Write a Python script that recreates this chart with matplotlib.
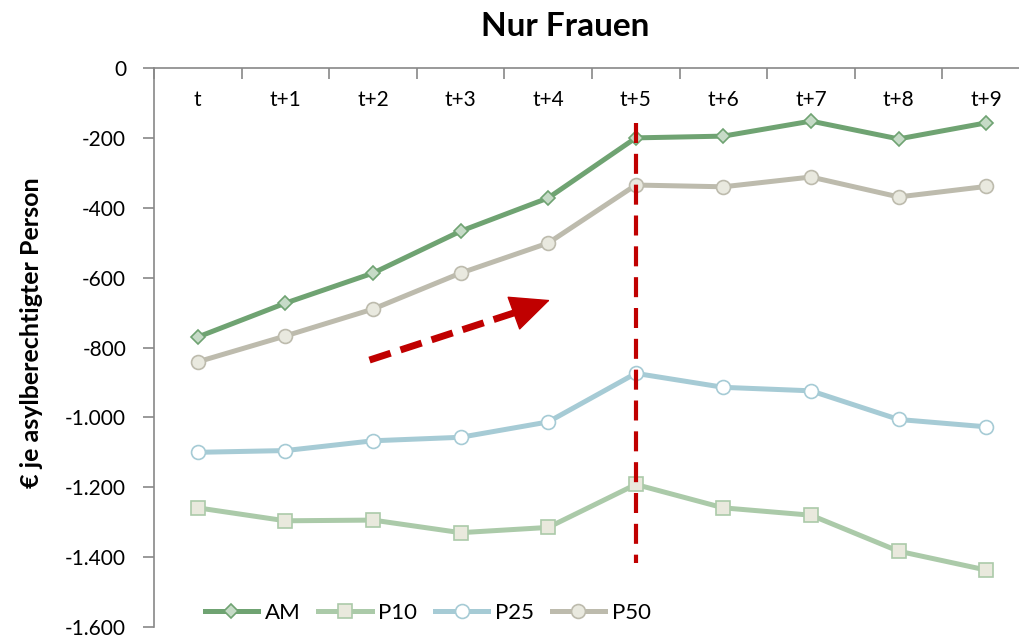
import numpy as np
import matplotlib.pyplot as plt
from matplotlib.ticker import FuncFormatter, FixedLocator

plt.rcParams['font.family'] = ['Lato', 'DejaVu Sans']

# data
cats = ['t', 't+1', 't+2', 't+3', 't+4', 't+5', 't+6', 't+7', 't+8', 't+9']
am = [-770, -673, -587, -467, -372, -200, -195, -152, -203, -157]
p10 = [-1259, -1296, -1294, -1330, -1315, -1192, -1259, -1280, -1383, -1437]
p25 = [-1100, -1095, -1067, -1057, -1013, -874, -914, -924, -1006, -1027]
p50 = [-841, -767, -690, -587, -501, -335, -340, -312, -369, -339]

x = np.arange(len(cats))

fig = plt.figure(figsize=(10.2, 6.37), dpi=100)
ax = fig.add_axes([154/1020, 1-627/637, (1030-154)/1020, (627-68)/637])

ax.plot(x, am, color='#6fa372', lw=3.6, marker='D', ms=7, mfc='#c6dbc7', mec='#6fa372', mew=1.2, label='AM', zorder=5)
ax.plot(x, p10, color='#abcaa9', lw=3.6, marker='s', ms=10, mfc='#e9e9dd', mec='#abcaa9', mew=1.2, label='P10', zorder=4)
ax.plot(x, p25, color='#a6cbd5', lw=3.6, marker='o', ms=10, mfc='white', mec='#a6cbd5', mew=1.2, label='P25', zorder=4)
ax.plot(x, p50, color='#bdbbad', lw=3.6, marker='o', ms=10, mfc='#e9e9df', mec='#bdbbad', mew=1.2, label='P50', zorder=4)

# red marks
ax.plot([5, 5], [-157, -1417], color='#c00000', lw=3, ls=(0, (4.8, 2.6)), zorder=6)
ax.plot([1.96, 3.72], [-836, -692], color='#c00000', lw=5, ls=(0, (3.2, 1.5)), solid_capstyle='butt', zorder=6)
ax.annotate('', xy=(4.02, -664), xytext=(3.68, -695),
            arrowprops=dict(arrowstyle='-|>,head_length=1.2,head_width=0.55', color='#c00000',
                            lw=1, shrinkA=0, shrinkB=0, mutation_scale=22), zorder=6)

ax.set_xlim(-0.5, 9.5)
ax.set_ylim(-1600, 0)
ax.yaxis.set_major_locator(FixedLocator(np.arange(-1600, 1, 200)))
ax.yaxis.set_major_formatter(FuncFormatter(lambda v, p: '{:,.0f}'.format(v).replace(',', '.')))

ax.xaxis.set_ticks_position('top')
ax.set_xticks(x)
ax.set_xticklabels(cats)
ax.set_xticks(np.arange(-0.5, 9.6, 1), minor=True)
ax.tick_params(axis='x', which='major', length=0, pad=-30, labelsize=15)
ax.tick_params(axis='x', which='minor', length=8, direction='in', color='#888888', width=1.2)
ax.tick_params(axis='y', length=8, direction='out', color='#888888', width=1.2, labelsize=15, pad=12)

for s in ['right', 'bottom']:
    ax.spines[s].set_visible(False)
for s in ['left', 'top']:
    ax.spines[s].set_color('#888888')
    ax.spines[s].set_linewidth(1.2)

fig.text(565/1020, 1-27/637, 'Nur Frauen', ha='center', va='center', fontsize=24, fontweight='bold')
fig.text(32/1020, 1-333/637, '€ je asylberechtigter Person', rotation=90, ha='center', va='center',
         fontsize=18, fontweight='bold')

ax.legend(loc='center left', bbox_to_anchor=(0.035, 0.025), ncol=4, frameon=False, fontsize=16,
          handlelength=2.4, columnspacing=0.8, handletextpad=0.3)

fig.savefig('out.png', dpi=100)
